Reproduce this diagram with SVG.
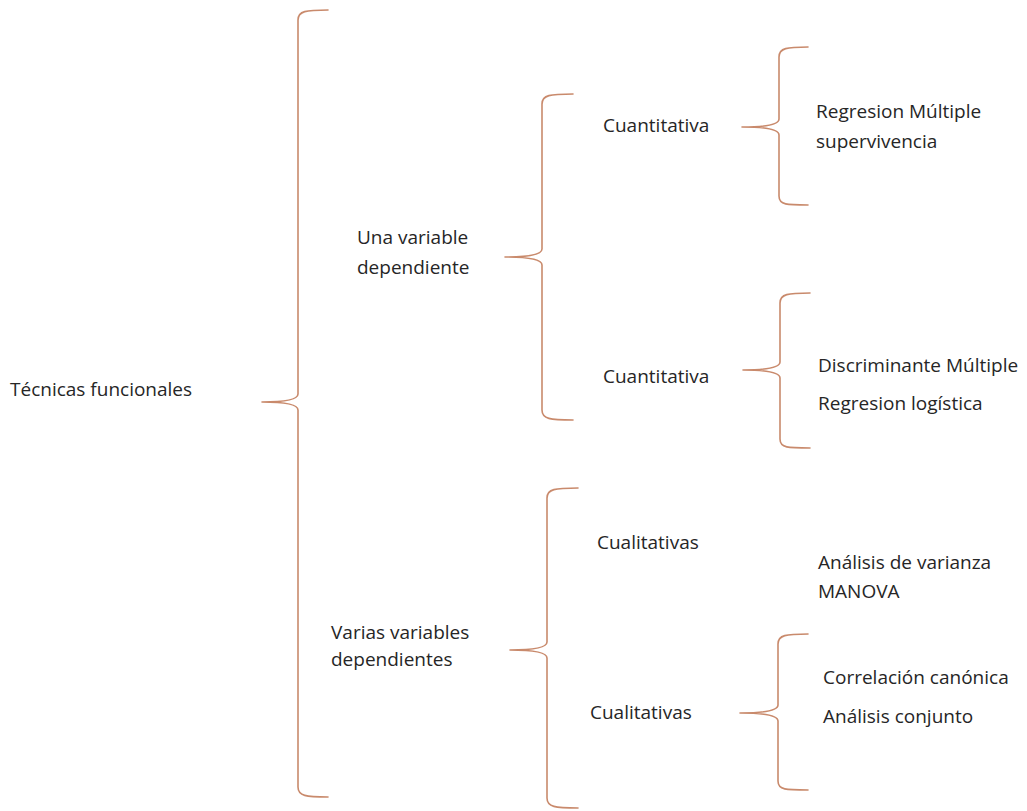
<svg xmlns="http://www.w3.org/2000/svg" width="1027" height="811" viewBox="0 0 1027 811">
<style>
.t{font-family:"Open Sans","Noto Sans",sans-serif;font-size:19px;fill:#262626}
.b{fill:none;stroke:#c98a6c;stroke-width:1.6;stroke-linejoin:round;stroke-linecap:round}
</style>
<rect width="1027" height="811" fill="#ffffff"/>
<g id="connectors">
<path class="b" d="M328 10 C306 10 298 11 298 20 L298 394 Q298 402 262 402 Q298 402 298 410 L298 787 C298 796 306 797 328 797"/>
<path class="b" d="M573 94 C550 94 542 95 542 104 L542 249 Q542 257 505 257 Q542 257 542 265 L542 410 C542 419 550 420 573 420"/>
<path class="b" d="M578 488 C555 488 547 489 547 498 L547 642 Q547 650 510 650 Q547 650 547 658 L547 798 C547 807 555 808 578 808"/>
<path class="b" d="M808 47 C787 47 779 48 779 57 L779 119 Q779 127 742 127 Q779 127 779 135 L779 196 C779 205 787 205 808 205"/>
<path class="b" d="M810 293 C788 293 780 294 780 303 L780 362 Q780 370 743 370 Q780 370 780 378 L780 439 C780 448 788 448 810 448"/>
<path class="b" d="M808 634 C786 634 778 635 778 644 L778 705 Q778 713 740 713 Q778 713 778 721 L778 781 C778 790 786 790 808 790"/>
</g>
<g id="n-tecnicas"><text class="t" x="10" y="396">Técnicas funcionales</text></g>
<g id="n-una"><text class="t" x="357" y="244">Una variable</text><text class="t" x="357" y="274">dependiente</text></g>
<g id="n-varias"><text class="t" x="331" y="639">Varias variables</text><text class="t" x="331" y="666">dependientes</text></g>
<g id="n-cuant1"><text class="t" x="603" y="132">Cuantitativa</text></g>
<g id="n-cuant2"><text class="t" x="603" y="383">Cuantitativa</text></g>
<g id="n-cual1"><text class="t" x="597" y="549">Cualitativas</text></g>
<g id="n-cual2"><text class="t" x="590" y="719">Cualitativas</text></g>
<g id="n-regmult"><text class="t" x="816" y="118">Regresion Múltiple</text><text class="t" x="816" y="148">supervivencia</text></g>
<g id="n-discr"><text class="t" x="818" y="372">Discriminante Múltiple</text></g>
<g id="n-reglog"><text class="t" x="818" y="410">Regresion logística</text></g>
<g id="n-anova"><text class="t" x="818" y="569">Análisis de varianza</text><text class="t" x="818" y="598">MANOVA</text></g>
<g id="n-correl"><text class="t" x="823" y="684">Correlación canónica</text></g>
<g id="n-conjunto"><text class="t" x="823" y="723">Análisis conjunto</text></g>
</svg>
